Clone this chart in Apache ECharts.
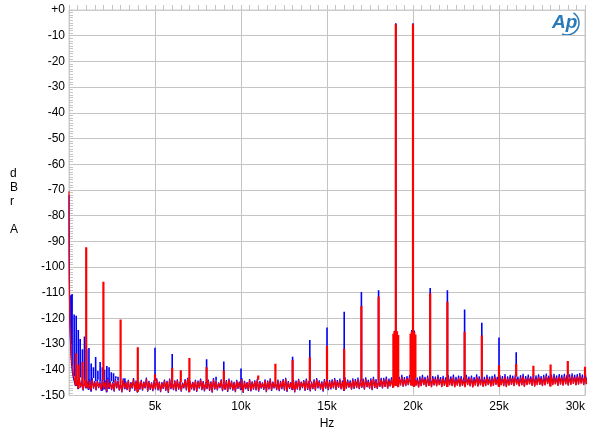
<!DOCTYPE html>
<html><head><meta charset="utf-8">
<script src="https://cdn.jsdelivr.net/npm/echarts@6/dist/echarts.min.js"></script>
<style>html,body{margin:0;padding:0;background:#fff}#c{width:600px;height:439px}</style>
</head><body><div id="c"></div>
<script>
// ---------- data ----------
const xTickLabels = ['', '5k', '10k', '15k', '20k', '25k', '30k'];   // at 0,5000,...,30000 Hz
const yAxisTitle = 'd\nB\nr\n\nA';
const xAxisTitle = 'Hz';

// noise floor envelopes (upper / lower edge of the noise band), one value every 150 Hz from 300 Hz
const FLOOR_START_HZ = 300, FLOOR_STEP_HZ = 150;
const redTop = [
  -143.0,-144.2,-143.6,-144.8,-143.9,-145.1,-144.3,-143.8,-144.9,-144.4,
  -145.0,-144.1,-144.7,-143.6,-144.9,-145.2,-144.0,-144.6,-145.3,-143.9,
  -144.8,-144.2,-145.1,-143.7,-144.6,-145.0,-144.3,-144.9,-143.5,-144.7,
  -145.2,-144.4,-143.8,-144.9,-145.1,-144.2,-144.7,-143.9,-145.0,-144.5,
  -144.1,-144.9,-145.3,-144.0,-143.6,-144.8,-145.0,-144.3,-144.6,-143.9,
  -144.7,-145.1,-144.2,-144.8,-143.7,-144.5,-145.2,-144.1,-144.9,-144.4,
  -143.8,-144.6,-145.0,-144.3,-144.9,-143.6,-144.7,-145.1,-144.0,-144.8,
  -144.5,-143.9,-144.8,-145.2,-144.1,-144.6,-143.8,-144.9,-145.0,-144.2,
  -144.7,-144.0,-143.6,-144.8,-145.1,-144.3,-144.6,-143.9,-144.9,-144.4,
  -143.9,-144.7,-145.0,-144.2,-143.7,-144.6,-144.9,-144.1,-143.8,-144.5,
  -144.3,-143.8,-144.6,-144.0,-144.8,-143.5,-144.4,-144.7,-143.9,-144.2,
  -143.7,-144.5,-144.1,-143.6,-144.6,-144.0,-143.4,-144.3,-144.5,-143.8,
  -143.9,-143.4,-144.2,-143.7,-143.1,-144.0,-143.5,-142.8,-143.6,-143.2,
  -143.0,-143.7,-143.2,-143.9,-143.4,-142.9,-143.6,-143.1,-143.8,-143.3,
  -143.5,-142.9,-143.7,-143.2,-143.8,-143.0,-143.4,-142.8,-143.6,-143.1,
  -143.3,-143.8,-142.9,-143.5,-143.1,-143.7,-142.7,-143.4,-143.0,-143.6,
  -142.9,-143.5,-143.2,-142.7,-143.6,-143.0,-143.3,-142.6,-143.4,-142.9,
  -143.2,-142.7,-143.5,-143.0,-142.5,-143.3,-142.8,-143.4,-142.6,-143.1,
  -142.7,-143.3,-142.9,-142.4,-143.2,-142.8,-142.5,-143.1,-142.6,-142.9,
  -142.5,-143.0,-142.7,-142.3,-142.9,-142.6,-142.2,-142.8,-142.4,-142.6
];
const redBot = [
  -146.0,-147.2,-146.6,-147.8,-146.9,-147.5,-148.1,-147.0,-147.7,-146.8,
  -147.9,-147.3,-148.4,-147.1,-147.6,-148.2,-146.9,-147.8,-148.5,-147.2,
  -147.6,-148.3,-147.0,-147.9,-148.6,-147.4,-147.8,-146.9,-148.2,-147.5,
  -148.0,-147.3,-147.7,-148.4,-147.1,-147.9,-148.7,-147.2,-147.6,-148.1,
  -147.4,-148.2,-146.9,-147.7,-148.5,-147.3,-147.8,-148.3,-147.0,-147.6,
  -148.1,-147.2,-147.9,-148.6,-147.4,-147.7,-146.8,-148.0,-147.5,-148.3,
  -147.3,-147.8,-148.4,-147.1,-147.6,-148.7,-147.2,-147.9,-148.1,-147.4,
  -147.7,-148.2,-147.0,-147.5,-148.4,-147.3,-147.9,-146.9,-147.6,-148.0,
  -147.2,-147.8,-148.3,-147.1,-147.6,-148.5,-147.4,-147.7,-146.8,-147.9,
  -147.5,-148.1,-147.2,-147.8,-146.9,-147.4,-148.2,-147.0,-147.6,-147.3,
  -147.0,-147.6,-146.8,-147.4,-148.0,-147.1,-146.7,-147.5,-147.2,-146.9,
  -147.3,-146.8,-147.5,-146.6,-147.1,-147.7,-146.9,-147.2,-146.5,-147.0,
  -146.6,-147.2,-146.4,-146.9,-146.2,-146.7,-146.0,-146.5,-146.3,-145.9,
  -146.1,-146.6,-146.2,-146.9,-146.4,-146.0,-146.7,-146.3,-146.8,-146.1,
  -146.5,-146.0,-146.8,-146.3,-146.7,-146.1,-146.4,-146.9,-146.2,-146.6,
  -146.3,-146.8,-146.0,-146.5,-146.9,-146.2,-146.6,-146.1,-146.7,-146.4,
  -146.0,-146.6,-146.3,-145.9,-146.7,-146.1,-146.4,-146.8,-146.2,-145.9,
  -146.4,-145.8,-146.5,-146.1,-146.7,-146.0,-145.7,-146.3,-146.6,-146.0,
  -145.9,-146.4,-146.1,-145.6,-146.5,-146.0,-145.7,-146.3,-145.8,-146.2,
  -145.7,-146.2,-145.9,-145.5,-146.1,-145.8,-145.4,-146.0,-145.6,-145.8
];
const blueTop = [
  -142.6,-143.8,-143.0,-144.3,-143.5,-144.6,-143.7,-143.2,-144.4,-143.9,
  -144.6,-143.5,-144.2,-143.1,-144.5,-144.8,-143.4,-144.1,-144.9,-143.3,
  -144.5,-143.9,-144.8,-143.2,-144.2,-144.7,-143.9,-144.6,-143.0,-144.3,
  -144.9,-144.0,-143.3,-144.6,-144.8,-143.8,-144.3,-143.4,-144.7,-144.1,
  -143.7,-144.6,-145.0,-143.6,-143.1,-144.5,-144.7,-143.9,-144.2,-143.4,
  -144.4,-144.8,-143.8,-144.5,-143.2,-144.1,-144.9,-143.7,-144.6,-144.0,
  -143.4,-144.2,-144.7,-143.9,-144.6,-143.2,-144.3,-144.8,-143.6,-144.5,
  -144.1,-143.5,-144.4,-144.9,-143.7,-144.2,-143.3,-144.6,-144.7,-143.8,
  -144.3,-143.6,-143.1,-144.4,-144.8,-143.9,-144.2,-143.5,-144.6,-144.0,
  -143.4,-144.3,-144.6,-143.7,-143.2,-144.1,-144.5,-143.6,-143.3,-144.0,
  -143.7,-143.2,-144.0,-143.4,-144.2,-142.9,-143.8,-144.1,-143.3,-143.6,
  -143.0,-143.8,-143.4,-142.9,-143.9,-143.3,-142.7,-143.6,-143.8,-143.1,
  -143.1,-142.6,-143.4,-142.9,-142.3,-143.2,-142.7,-142.0,-142.8,-142.4,
  -142.1,-142.8,-142.3,-143.0,-142.5,-142.0,-142.7,-142.2,-142.9,-142.4,
  -142.6,-142.0,-142.8,-142.3,-142.9,-142.1,-142.5,-141.9,-142.7,-142.2,
  -142.4,-142.9,-142.0,-142.6,-142.2,-142.8,-141.8,-142.5,-142.1,-142.7,
  -142.0,-142.6,-142.3,-141.8,-142.7,-142.1,-142.4,-141.7,-142.5,-142.0,
  -142.3,-141.8,-142.6,-142.1,-141.6,-142.4,-141.9,-142.5,-141.7,-142.2,
  -141.8,-142.4,-142.0,-141.5,-142.3,-141.9,-141.6,-142.2,-141.7,-142.0,
  -141.6,-142.1,-141.8,-141.4,-142.0,-141.7,-141.3,-141.9,-141.5,-141.7
];
const blueBot = [
  -146.3,-147.5,-146.9,-148.1,-147.2,-147.8,-148.4,-147.3,-148.0,-147.1,
  -148.2,-147.6,-148.7,-147.4,-147.9,-148.5,-147.2,-148.1,-148.8,-147.5,
  -147.9,-148.6,-147.3,-148.2,-148.9,-147.7,-148.1,-147.2,-148.5,-147.8,
  -148.3,-147.6,-148.0,-148.7,-147.4,-148.2,-149.0,-147.5,-147.9,-148.4,
  -147.7,-148.5,-147.2,-148.0,-148.8,-147.6,-148.1,-148.6,-147.3,-147.9,
  -148.4,-147.5,-148.2,-148.9,-147.7,-148.0,-147.1,-148.3,-147.8,-148.6,
  -147.6,-148.1,-148.7,-147.4,-147.9,-149.0,-147.5,-148.2,-148.4,-147.7,
  -148.0,-148.5,-147.3,-147.8,-148.7,-147.6,-148.2,-147.2,-147.9,-148.3,
  -147.5,-148.1,-148.6,-147.4,-147.9,-148.8,-147.7,-148.0,-147.1,-148.2,
  -147.8,-148.4,-147.5,-148.1,-147.2,-147.7,-148.5,-147.3,-147.9,-147.6,
  -147.2,-147.8,-147.0,-147.6,-148.2,-147.3,-146.9,-147.7,-147.4,-147.1,
  -147.5,-147.0,-147.7,-146.8,-147.3,-147.9,-147.1,-147.4,-146.7,-147.2,
  -146.7,-147.3,-146.5,-147.0,-146.3,-146.8,-146.1,-146.6,-146.4,-146.0,
  -146.0,-146.5,-146.1,-146.8,-146.3,-145.9,-146.6,-146.2,-146.7,-146.0,
  -146.3,-145.8,-146.6,-146.1,-146.5,-145.9,-146.2,-146.7,-146.0,-146.4,
  -146.1,-146.6,-145.8,-146.3,-146.7,-146.0,-146.4,-145.9,-146.5,-146.2,
  -145.8,-146.4,-146.1,-145.7,-146.5,-145.9,-146.2,-146.6,-146.0,-145.7,
  -146.2,-145.6,-146.3,-145.9,-146.5,-145.8,-145.5,-146.1,-146.4,-145.8,
  -145.7,-146.2,-145.9,-145.4,-146.3,-145.8,-145.5,-146.1,-145.6,-146.0,
  -145.5,-146.0,-145.7,-145.3,-145.9,-145.6,-145.2,-145.8,-145.4,-145.6
];

// low-frequency roll-off below 300 Hz: [Hz, dBr]
const redLow  = [[0,-70.5],[10,-92],[20,-104],[35,-113],[50,-119],[70,-124],[90,-128],[120,-133],[160,-137],[200,-140],[250,-142]];
const blueLow = [[0,-72],[10,-94],[20,-106],[35,-115],[50,-121],[70,-126],[90,-130],[120,-135],[160,-138.5],[200,-141],[250,-143]];

// discrete tones: [Hz, peak dBr]
const redSpikes = [
  [410,-133.5],[560,-138],[780,-137],
  [1000,-92.3],[2000,-105.7],[3000,-120.4],[4000,-131.2],[5000,-141.6],[6000,-139.3],
  [6500,-140.2],[7000,-135.4],[8000,-139],[9000,-140.3],[11000,-142.2],[12000,-137.6],
  [13000,-136.2],[14000,-135.1],[15000,-130.6],[16000,-131.8],[17000,-115.2],[18000,-111.5],
  [18860,-126],[18930,-125],[19000,-5.5],[19070,-125],[19140,-126.5],
  [19860,-126],[19930,-125],[20000,-5.5],[20070,-125.3],[20140,-126.3],
  [21000,-110.2],[22000,-113.5],[23000,-125.2],[24000,-126.7],[25000,-138.1],[26000,-137.7],
  [27000,-138.4],[28000,-137.9],[29000,-136.6],[30000,-138.8]
];
const blueSpikes = [
  [110,-111],[180,-110.5],[300,-118.5],[420,-119],[540,-124.5],[650,-128],[780,-132],
  [900,-127],[1030,-132],[1160,-131.5],[1290,-137.5],[1420,-139],[1550,-135],
  [1680,-140.5],[1810,-137],[1940,-139],[2070,-140],[2200,-138.5],[2330,-139],
  [2460,-141],[2590,-141.3],[2720,-142.5],[2850,-142.7],[3250,-143.3],
  [5000,-131.4],[6000,-133.9],[8000,-135.9],[8550,-142.7],[9000,-136.8],
  [10000,-139.5],[13000,-134.9],[14000,-128.4],[15000,-123.5],[16000,-117.4],
  [17000,-109.7],[18000,-109],[18930,-124.8],[19000,-5.2],[19930,-124.5],[20000,-5.2],[20070,-124.7],
  [21000,-108.2],[22000,-109],[23000,-116.5],[24000,-121.7],[25000,-127.4],[26000,-133.2]
];

// ---------- build line data ----------
// noise band drawn as a dense zig-zag between the read upper and lower edges
function floorPoints(low, top, bot) {
  const pts = low.map(p => [p[0], p[1]]);
  top.forEach((v, i) => {
    const f = FLOOR_START_HZ + i * FLOOR_STEP_HZ;
    pts.push([f, v], [f + FLOOR_STEP_HZ / 2, bot[i]]);
  });
  return pts;
}
function baseAt(pts, f) {
  let b = pts[0][1];
  for (const p of pts) { if (p[0] <= f) b = p[1]; else break; }
  return b;
}
function spikePoints(pts, spikes) {
  const out = [];
  spikes.forEach(s => {
    const b = baseAt(pts, s[0]);
    out.push([s[0], b], [s[0], s[1]], [s[0], b], [s[0], null]);
  });
  return out;
}
const blueBase = floorPoints(blueLow, blueTop, blueBot);
const redBase = floorPoints(redLow, redTop, redBot);

const chart = echarts.init(document.getElementById('c'), null, {renderer: 'canvas'});
const FONT = '"Liberation Sans", Arial, sans-serif';
const lineCommon = {type: 'line', showSymbol: false, symbol: 'none', sampling: null, clip: true, connectNulls: false};
chart.setOption({
  animation: false,
  backgroundColor: '#ffffff',
  grid: {left: 69, right: 15, top: 10, bottom: 43.5, show: true, borderColor: '#cccccc', borderWidth: 1, outerBoundsMode: 'none'},
  xAxis: {
    type: 'value', min: 0, max: 30000, interval: 5000,
    name: xAxisTitle, nameLocation: 'middle', nameGap: 22,
    nameTextStyle: {color: '#000', fontSize: 12, fontFamily: FONT},
    axisLine: {show: true, lineStyle: {color: '#cccccc'}},
    axisTick: {show: true, inside: true, length: 5, lineStyle: {color: '#c4c4c4'}},
    minorTick: {show: true, splitNumber: 10, length: 5, lineStyle: {color: '#c4c4c4'}},
    axisLabel: {color: '#000', fontSize: 12, fontFamily: FONT, margin: 5, alignMaxLabel: 'right',
      formatter: v => xTickLabels[Math.round(v / 5000)] || ''},
    splitLine: {show: true, lineStyle: {color: '#c4c4c4', width: 1}}
  },
  yAxis: {
    type: 'value', min: -150, max: 0, interval: 10,
    axisLine: {show: true, lineStyle: {color: '#cccccc'}},
    axisTick: {show: true, inside: true, length: 4, lineStyle: {color: '#c4c4c4'}},
    minorTick: {show: true, splitNumber: 10, length: 4, lineStyle: {color: '#c4c4c4'}},
    axisLabel: {color: '#000', fontSize: 12, fontFamily: FONT, margin: 4,
      formatter: v => v === 0 ? '+0' : String(v)},
    splitLine: {show: true, lineStyle: {color: '#c4c4c4', width: 1}}
  },
  graphic: [
    {type: 'text', left: 10, top: 167, style: {text: yAxisTitle, fill: '#000', font: '12px ' + FONT, lineHeight: 14}},
    {type: 'text', x: 552, y: 13, style: {text: 'Ap', fill: '#2a7ab8', font: 'italic bold 19px ' + FONT}},
    {type: 'arc', shape: {cx: 567, cy: 23, r: 12, startAngle: -1.0, endAngle: 2.0, clockwise: true},
      style: {stroke: '#2a7ab8', lineWidth: 1.5, fill: null}}
  ],
  series: [
    Object.assign({}, lineCommon, {name: 'blue floor', data: blueBase, lineStyle: {color: '#0000ff', width: 1.2}}),
    Object.assign({}, lineCommon, {name: 'blue tones', data: spikePoints(blueBase, blueSpikes), lineStyle: {color: '#0000ff', width: 1.6}}),
    Object.assign({}, lineCommon, {name: 'red floor', data: redBase, lineStyle: {color: '#ff0000', width: 1.2}}),
    Object.assign({}, lineCommon, {name: 'red tones', data: spikePoints(redBase, redSpikes), lineStyle: {color: '#ff0000', width: 2.2}})
  ]
});
</script></body></html>
